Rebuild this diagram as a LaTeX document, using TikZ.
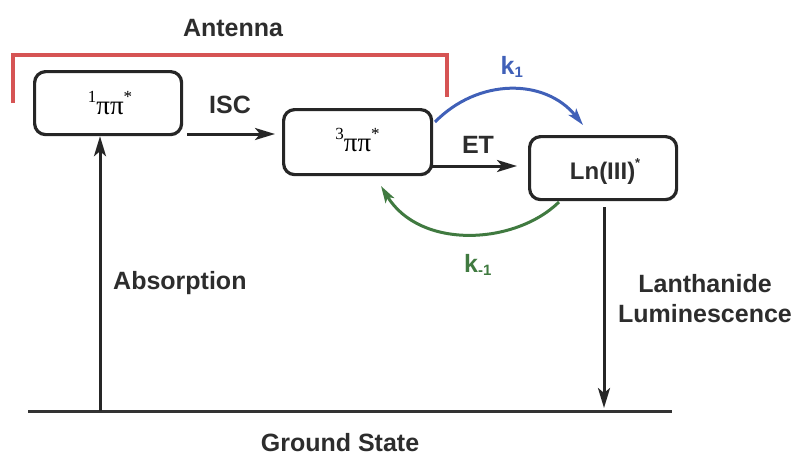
\documentclass[tikz,border=0pt]{standalone}
\usepackage{fontspec}
\setmainfont{Liberation Sans}
\newfontfamily\serifpi{Liberation Serif}
\usetikzlibrary{arrows.meta,calc}
\definecolor{antred}{RGB}{214,84,84}
\definecolor{kblue}{RGB}{64,96,184}
\definecolor{kgreen}{RGB}{64,122,64}
\definecolor{txt}{RGB}{45,45,45}
\tikzset{
  statebox/.style={draw=black!85, line width=3.2pt, rounded corners=11pt, anchor=north west, inner sep=0pt},
  arr/.style={line width=3pt, draw=black!85, -{Stealth[length=20pt,width=12pt,inset=5pt]}},
  karr/.style={line width=3pt, -{Stealth[length=17pt,width=10pt,inset=4pt]}},
  lab/.style={font=\bfseries\fontsize{25}{30}\selectfont, text=txt, inner sep=0pt},
  pilab/.style={font=\serifpi\fontsize{27}{30}\selectfont, text=black, inner sep=0pt}
}
\begin{document}
\begin{tikzpicture}[x=1pt,y=-1pt]
\useasboundingbox (0,0) rectangle (797,456);
% boxes
\node[statebox, minimum width=147pt, minimum height=63pt] (b1) at (33,70) {};
\node[statebox, minimum width=148pt, minimum height=65pt] (b2) at (282,108) {};
\node[statebox, minimum width=147pt, minimum height=63pt] (b3) at (528,135) {};
\node[pilab] (t1) at ($(b1.center)+(2,0)$) {\raisebox{0.42em}{\fontsize{17}{17}\selectfont 1}ππ\raisebox{0.42em}{\fontsize{17}{17}\selectfont *}};
\node[pilab] (t2) at ($(b2.center)+(0,-2)$) {\raisebox{0.42em}{\fontsize{17}{17}\selectfont 3}ππ\raisebox{0.42em}{\fontsize{17}{17}\selectfont *}};
\node[lab, font=\bfseries\fontsize{24}{28}\selectfont] (t3) at ($(b3.center)+(2,3)$) {Ln(III)\raisebox{0.5em}{\fontsize{13}{13}\selectfont *}};
% antenna bracket
\coordinate (rl) at (13,103);
\coordinate (rr) at (447,97);
\draw[antred, line width=3.4pt] (rl) -- (13,55) -- (447,55) -- (rr);
\node[lab] (ant) at (233,28) {Antenna};
% ground
\coordinate (gl) at (28,411);
\coordinate (gr) at (672,411);
\draw[black!80, line width=3pt] (gl) -- (gr);
\node[lab] (gs) at (340,443) {Ground State};
% absorption
\coordinate (a0) at (100,411);
\draw[arr] (a0) -- (a0 |- b1.south);
\node[lab, anchor=west] (abs) at (113,283) {Absorption};
% ISC
\coordinate (i0) at (187,134);
\coordinate (i1) at (275,134);
\draw[arr] (i0) -- (i1);
\node[lab] (isc) at (230,105) {ISC};
% ET
\coordinate (e0) at (430,166);
\coordinate (e1) at (517,166);
\draw[arr] (e0) -- (e1);
\node[lab] (et) at (478,145) {ET};
% luminescence
\coordinate (l0) at (604,207);
\coordinate (l1) at (604,408);
\draw[arr] (l0) -- (l1);
\node[lab, align=center] (lum) at (705,299) {Lanthanide\\Luminescence};
% k1
\coordinate (k1s) at (435,122);
\coordinate (k1e) at (583,125);
\draw[karr, kblue] (k1s) .. controls (478,78) and (545,78) .. (k1e);
\node[lab, text=kblue] (k1) at (512,67) {k\textsubscript{\fontsize{15}{15}\selectfont 1}};
% k-1
\coordinate (kms) at (559,202);
\coordinate (kme) at (381,186);
\draw[karr, kgreen] (kms) .. controls (515,245) and (420,250) .. (kme);
\node[lab, text=kgreen] (km1) at (478,265) {k\textsubscript{\fontsize{15}{15}\selectfont -1}};
\end{tikzpicture}
\end{document}
